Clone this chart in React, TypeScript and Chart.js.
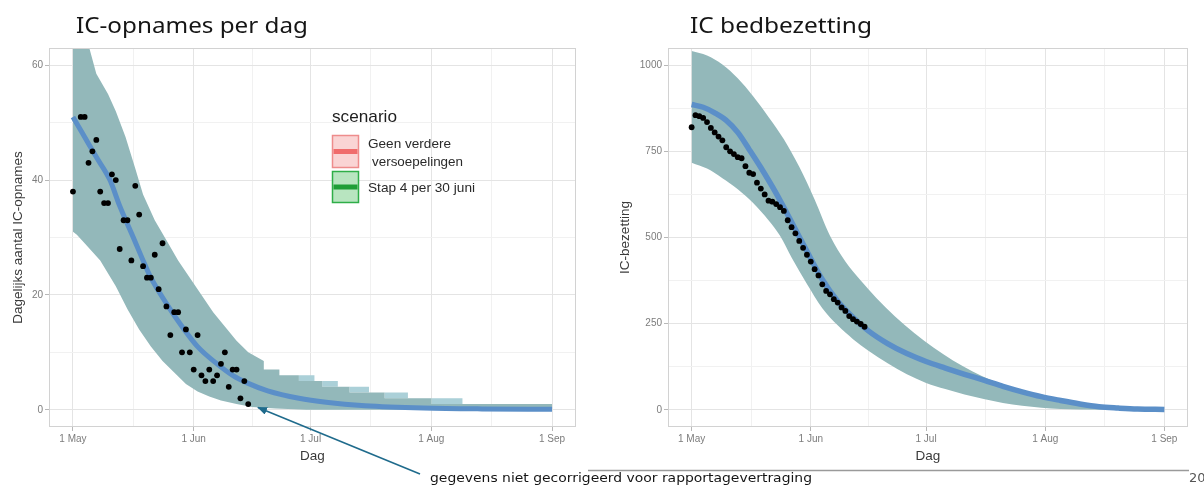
import React, { useEffect, useRef } from 'react';
import { Chart, registerables } from 'chart.js';

Chart.register(...registerables);

// ---------------- data ----------------
// x values are days since 1 May
const monthTickDays = [0, 31, 61, 92, 123];
const monthTickLabels = ['1 May', '1 Jun', '1 Jul', '1 Aug', '1 Sep'];
const monthMinorDays = [15.5, 46, 76.5, 107.5];

const admYMajor = [0, 20, 40, 60];
const admYMinor = [10, 30, 50];
const occYMajor = [0, 250, 500, 750, 1000];
const occYMinor = [125, 375, 625, 875];

// IC-opnames per dag: observed
const admObsDays = [0, 2, 3, 4, 5, 6, 7, 8, 9, 10, 11, 12, 13, 14, 15, 16, 17, 18, 19, 20, 21, 22, 23, 24, 25, 26, 27, 28, 29, 30, 31, 32, 33, 34, 35, 36, 37, 38, 39, 40, 41, 42, 43, 44, 45];
const admObs = [38, 51, 51, 43, 45, 47, 38, 36, 36, 41, 40, 28, 33, 33, 26, 39, 34, 25, 23, 23, 27, 21, 29, 18, 13, 17, 17, 10, 14, 10, 7, 13, 6, 5, 7, 5, 6, 8, 10, 4, 7, 7, 2, 5, 1];

// IC-opnames: model median
const admMedDays = [0, 3, 6, 9.5, 12, 15.5, 18, 20, 24, 28, 32, 37, 41, 45, 50, 58, 65, 75, 90, 105, 123];
const admMed = [51, 47.5, 44, 40, 35.5, 30, 26, 23, 18.5, 14.5, 11, 8, 6, 4.6, 3.3, 2, 1.3, 0.7, 0.3, 0.15, 0.1];

// IC-opnames: band
const admLowDays = [0, 1, 3, 7, 11, 14, 17, 20, 23, 26, 29, 32, 35, 38, 42, 46, 52, 60, 123];
const admLow = [31, 30.5, 29, 26, 21.5, 17.5, 14, 11, 8.5, 6.5, 4.5, 3.2, 2.3, 1.6, 1, 0.5, 0.2, 0, 0];
const admUpDays = [0, 2, 4, 6, 9, 11, 13.5, 16, 18, 21, 24, 27, 30, 33, 36, 39, 42, 45, 49, 49, 53, 53, 58, 58, 64, 64, 71, 71, 80, 80, 92, 92, 123];
const admUp = [72, 68, 63.5, 58.5, 55, 52, 47.5, 42, 37.5, 33, 29.5, 26, 23, 20, 17, 14.5, 12, 10, 8.5, 7, 7, 6, 6, 5, 5, 4, 4, 3, 3, 2, 2, 1, 1];
const admAltUpDays = [53, 62, 62, 68, 68, 76, 76, 86, 86, 100, 100, 123];
const admAltUp = [6, 6, 5, 5, 4, 4, 3, 3, 2, 2, 1, 1];

// IC bedbezetting: observed
const occObsDays = [0, 1, 2, 3, 4, 5, 6, 7, 8, 9, 10, 11, 12, 13, 14, 15, 16, 17, 18, 19, 20, 21, 22, 23, 24, 25, 26, 27, 28, 29, 30, 31, 32, 33, 34, 35, 36, 37, 38, 39, 40, 41, 42, 43, 44, 45];
const occObs = [820, 855, 852, 847, 835, 818, 805, 793, 782, 762, 750, 742, 733, 730, 707, 688, 684, 659, 642, 625, 607, 604, 597, 588, 577, 550, 530, 512, 490, 470, 450, 430, 408, 390, 364, 345, 335, 321, 311, 297, 287, 272, 263, 256, 249, 241];

// IC bedbezetting: model median
const occMedDays = [0, 3, 6, 9, 12, 15, 18, 22, 26, 30, 34, 38, 42, 46, 51, 56, 61, 66, 71, 76, 81, 86, 91, 96, 101, 106, 111, 116, 123];
const occMed = [886, 878, 862, 840, 805, 755, 703, 628, 545, 460, 378, 315, 268, 229, 192, 163, 140, 121, 103, 86, 68, 52, 38, 27, 17, 9, 5, 2, 1];

// IC bedbezetting: band
const occUpDays = [0, 4, 8, 12, 16, 20, 24, 28, 32, 36, 40, 44, 48, 53, 58, 63, 68, 73, 78, 83, 88, 93, 98, 103, 108, 113, 118, 123];
const occUp = [1041, 1028, 1002, 962, 910, 850, 785, 705, 610, 505, 430, 375, 325, 270, 222, 180, 143, 112, 86, 65, 48, 35, 24, 15, 9, 5, 3, 2];
const occLowDays = [0, 4, 8, 12, 16, 20, 23, 26, 30, 34, 38, 42, 46, 51, 56, 61, 66, 71, 76, 81, 86, 91, 96, 101, 123];
const occLow = [717, 700, 672, 640, 600, 550, 505, 442, 365, 295, 245, 205, 171, 135, 103, 78, 60, 44, 31, 20, 12, 6, 2, 1, 0];

// ---------------- styling ----------------
const BAND = '#93b8ba';
const BAND_ALT = '#abd0d8';
const LINE = '#5b8fc8';
const GRID_MAJOR = '#e4e4e4';
const GRID_MINOR = '#f1f1f1';
const TICK_TXT = '#7c7c7c';
const AXIS_TXT = '#3a3a3a';
const SANS = "'Liberation Sans', Arial, Helvetica, sans-serif";

const toXY = (xs: number[], ys: number[]) => xs.map((x, i) => ({ x, y: ys[i] }));

const panelBorder = {
  id: 'panelBorder',
  afterDraw(chart: any) {
    const { ctx, chartArea } = chart;
    const { left, top, right, bottom } = chartArea;
    ctx.save();
    ctx.strokeStyle = '#d2d2d2';
    ctx.lineWidth = 1;
    ctx.strokeRect(Math.round(left) + 0.5, Math.round(top) + 0.5, Math.round(right - left) - 1, Math.round(bottom - top) - 1);
    ctx.restore();
  },
};

function xScale(axisHeight: number) {
  const all = [...monthTickDays, ...monthMinorDays].sort((a, b) => a - b);
  return {
    type: 'linear',
    min: -6.15,
    max: 129.15,
    afterBuildTicks: (s: any) => {
      s.ticks = all.map((v) => ({ value: v }));
    },
    afterFit: (s: any) => {
      s.height = axisHeight;
    },
    ticks: {
      autoSkip: false,
      maxRotation: 0,
      minRotation: 0,
      padding: 2,
      color: TICK_TXT,
      font: { family: SANS, size: 10 },
      callback: (v: any) => {
        const i = monthTickDays.indexOf(v);
        return i >= 0 ? monthTickLabels[i] : '';
      },
    },
    grid: {
      color: (c: any) => (c.tick && monthTickDays.includes(c.tick.value) ? GRID_MAJOR : GRID_MINOR),
      lineWidth: 1,
      drawTicks: true,
      tickLength: 4,
      tickColor: (c: any) => (c.tick && monthTickDays.includes(c.tick.value) ? '#b8b8b8' : 'rgba(0,0,0,0)'),
    },
    border: { display: false },
    title: {
      display: true,
      text: 'Dag',
      color: AXIS_TXT,
      font: { family: SANS, size: 13.5 },
      padding: { top: 0, bottom: 20.9 },
    },
  };
}

function yScale(min: number, max: number, major: number[], minor: number[], width: number, title: string, titlePad: number) {
  const all = [...major, ...minor].sort((a, b) => a - b);
  return {
    type: 'linear',
    min,
    max,
    afterBuildTicks: (s: any) => {
      s.ticks = all.map((v) => ({ value: v }));
    },
    afterFit: (s: any) => {
      s.width = width;
    },
    ticks: {
      autoSkip: false,
      padding: 2,
      color: TICK_TXT,
      font: { family: SANS, size: 10 },
      callback: (v: any) => (major.includes(v) ? String(v) : ''),
    },
    grid: {
      color: (c: any) => (c.tick && major.includes(c.tick.value) ? GRID_MAJOR : GRID_MINOR),
      lineWidth: 1,
      drawTicks: true,
      tickLength: 4,
      tickColor: (c: any) => (c.tick && major.includes(c.tick.value) ? '#b8b8b8' : 'rgba(0,0,0,0)'),
    },
    border: { display: false },
    title: {
      display: true,
      text: title,
      color: AXIS_TXT,
      font: { family: SANS, size: 13.5 },
      padding: { top: titlePad, bottom: 0 },
    },
  };
}

const baseOptions = (padRight: number) => ({
  responsive: false,
  animation: false,
  devicePixelRatio: 1,
  layout: { padding: { left: 0, top: 48, right: padRight, bottom: 0 } },
  plugins: {
    legend: { display: false },
    tooltip: { enabled: false },
    title: { display: false },
  },
  elements: { point: { radius: 0 } },
  events: [],
});

function leftConfig(): any {
  return {
    type: 'line',
    data: {
      datasets: [
        {
          label: 'Waargenomen',
          data: toXY(admObsDays, admObs),
          showLine: false,
          pointRadius: 2.9,
          pointBackgroundColor: '#000',
          pointBorderWidth: 0,
          order: 0,
        },
        {
          label: 'Mediaan',
          data: toXY(admMedDays, admMed),
          borderColor: LINE,
          borderWidth: 5,
          pointRadius: 0,
          tension: 0.4,
          cubicInterpolationMode: 'monotone',
          fill: false,
          order: 1,
          clip: 0,
        },
        {
          label: 'ondergrens',
          data: toXY(admLowDays, admLow),
          borderWidth: 0,
          borderColor: 'transparent',
          pointRadius: 0,
          fill: false,
          order: 2,
        },
        {
          label: 'bovengrens',
          data: toXY(admUpDays, admUp),
          borderWidth: 0,
          borderColor: 'transparent',
          pointRadius: 0,
          fill: 2,
          backgroundColor: BAND,
          order: 2,
        },
        {
          label: 'bovengrens stap 4',
          data: toXY(admAltUpDays, admAltUp),
          borderWidth: 0,
          borderColor: 'transparent',
          pointRadius: 0,
          fill: 3,
          backgroundColor: BAND_ALT,
          order: 3,
        },
      ],
    },
    options: {
      ...baseOptions(24),
      scales: {
        x: xScale(58),
        y: yScale(-3, 63, admYMajor, admYMinor, 49, 'Dagelijks aantal IC-opnames', 9.9),
      },
    },
    plugins: [panelBorder],
  };
}

function rightConfig(): any {
  return {
    type: 'line',
    data: {
      datasets: [
        {
          label: 'Waargenomen',
          data: toXY(occObsDays, occObs),
          showLine: false,
          pointRadius: 2.9,
          pointBackgroundColor: '#000',
          pointBorderWidth: 0,
          order: 0,
        },
        {
          label: 'Mediaan',
          data: toXY(occMedDays, occMed),
          borderColor: LINE,
          borderWidth: 5.5,
          pointRadius: 0,
          tension: 0.4,
          cubicInterpolationMode: 'monotone',
          fill: false,
          order: 1,
          clip: 0,
        },
        {
          label: 'ondergrens',
          data: toXY(occLowDays, occLow),
          borderWidth: 0,
          borderColor: 'transparent',
          pointRadius: 0,
          tension: 0.4,
          cubicInterpolationMode: 'monotone',
          fill: false,
          order: 2,
        },
        {
          label: 'bovengrens',
          data: toXY(occUpDays, occUp),
          borderWidth: 0,
          borderColor: 'transparent',
          pointRadius: 0,
          tension: 0.4,
          cubicInterpolationMode: 'monotone',
          fill: 2,
          backgroundColor: BAND,
          order: 2,
        },
      ],
    },
    options: {
      ...baseOptions(16),
      scales: {
        x: xScale(58),
        y: yScale(-50, 1050, occYMajor, occYMinor, 68, 'IC-bezetting', 16.9),
      },
    },
    plugins: [panelBorder],
  };
}

export default function App() {
  const leftRef = useRef<HTMLCanvasElement>(null);
  const rightRef = useRef<HTMLCanvasElement>(null);

  useEffect(() => {
    const c1 = new Chart(leftRef.current as HTMLCanvasElement, leftConfig());
    const c2 = new Chart(rightRef.current as HTMLCanvasElement, rightConfig());
    return () => {
      c1.destroy();
      c2.destroy();
    };
  }, []);

  const legendFont = SANS;
  return (
    <div style={{ position: 'absolute', left: 0, top: 0, width: 1204, height: 485, background: '#fff', overflow: 'hidden' }}>
      <canvas ref={leftRef} width={600} height={485} style={{ position: 'absolute', left: 0, top: 0, width: 600, height: 485 }} />
      <canvas ref={rightRef} width={604} height={485} style={{ position: 'absolute', left: 600, top: 0, width: 604, height: 485 }} />
      <svg width={1204} height={485} style={{ position: 'absolute', left: 0, top: 0, pointerEvents: 'none' }}>
        <defs>
          <marker id="ah" markerWidth="10" markerHeight="8" refX="9" refY="4" orient="auto" markerUnits="userSpaceOnUse">
            <path d="M0,0 L10,4 L0,8 z" fill="#1f6b8c" />
          </marker>
        </defs>
        {/* titles */}
        <text x={76} y={33} fontFamily="'Noto Sans', sans-serif" fontSize={22} fill="#151515" textLength={232} lengthAdjust="spacingAndGlyphs">IC-opnames per dag</text>
        <text x={690} y={33} fontFamily="'Noto Sans', sans-serif" fontSize={22} fill="#151515" textLength={182} lengthAdjust="spacingAndGlyphs">IC bedbezetting</text>

        {/* legend */}
        <text x={332} y={121.5} fontFamily={legendFont} fontSize={17} fill="#1e1e1e" textLength={65} lengthAdjust="spacingAndGlyphs">scenario</text>
        <rect x={332.5} y={135.5} width={26} height={32} fill="#fad4d4" stroke="#ee8c8c" strokeWidth={1.5} />
        <line x1={333.5} y1={151.5} x2={357.5} y2={151.5} stroke="#f06c6c" strokeWidth={5} />
        <rect x={332.5} y={171.5} width={26} height={31} fill="#b8e5c0" stroke="#2fae48" strokeWidth={1.5} />
        <line x1={333.5} y1={187} x2={357.5} y2={187} stroke="#1f9e37" strokeWidth={5} />
        <text x={368} y={147.5} fontFamily={legendFont} fontSize={13} fill="#2a2a2a" textLength={83} lengthAdjust="spacingAndGlyphs">Geen verdere</text>
        <text x={372} y={165.5} fontFamily={legendFont} fontSize={13} fill="#2a2a2a" textLength={91} lengthAdjust="spacingAndGlyphs">versoepelingen</text>
        <text x={368} y={191.5} fontFamily={legendFont} fontSize={13} fill="#2a2a2a" textLength={107} lengthAdjust="spacingAndGlyphs">Stap 4 per 30 juni</text>

        {/* annotation arrow */}
        <line x1={420} y1={474} x2={258} y2={407.5} stroke="#1f6b8c" strokeWidth={1.6} markerEnd="url(#ah)" />

        {/* footer */}
        <line x1={588} y1={470.5} x2={1189} y2={470.5} stroke="#9a9a9a" strokeWidth={1.5} />
        <text x={430} y={481.5} fontFamily="'DejaVu Sans', sans-serif" fontSize={12.5} fill="#141414" textLength={382} lengthAdjust="spacingAndGlyphs">gegevens niet gecorrigeerd voor rapportagevertraging</text>
        <text x={1189} y={481.5} fontFamily="'DejaVu Sans', sans-serif" fontSize={13} fill="#555">20</text>
      </svg>
    </div>
  );
}
